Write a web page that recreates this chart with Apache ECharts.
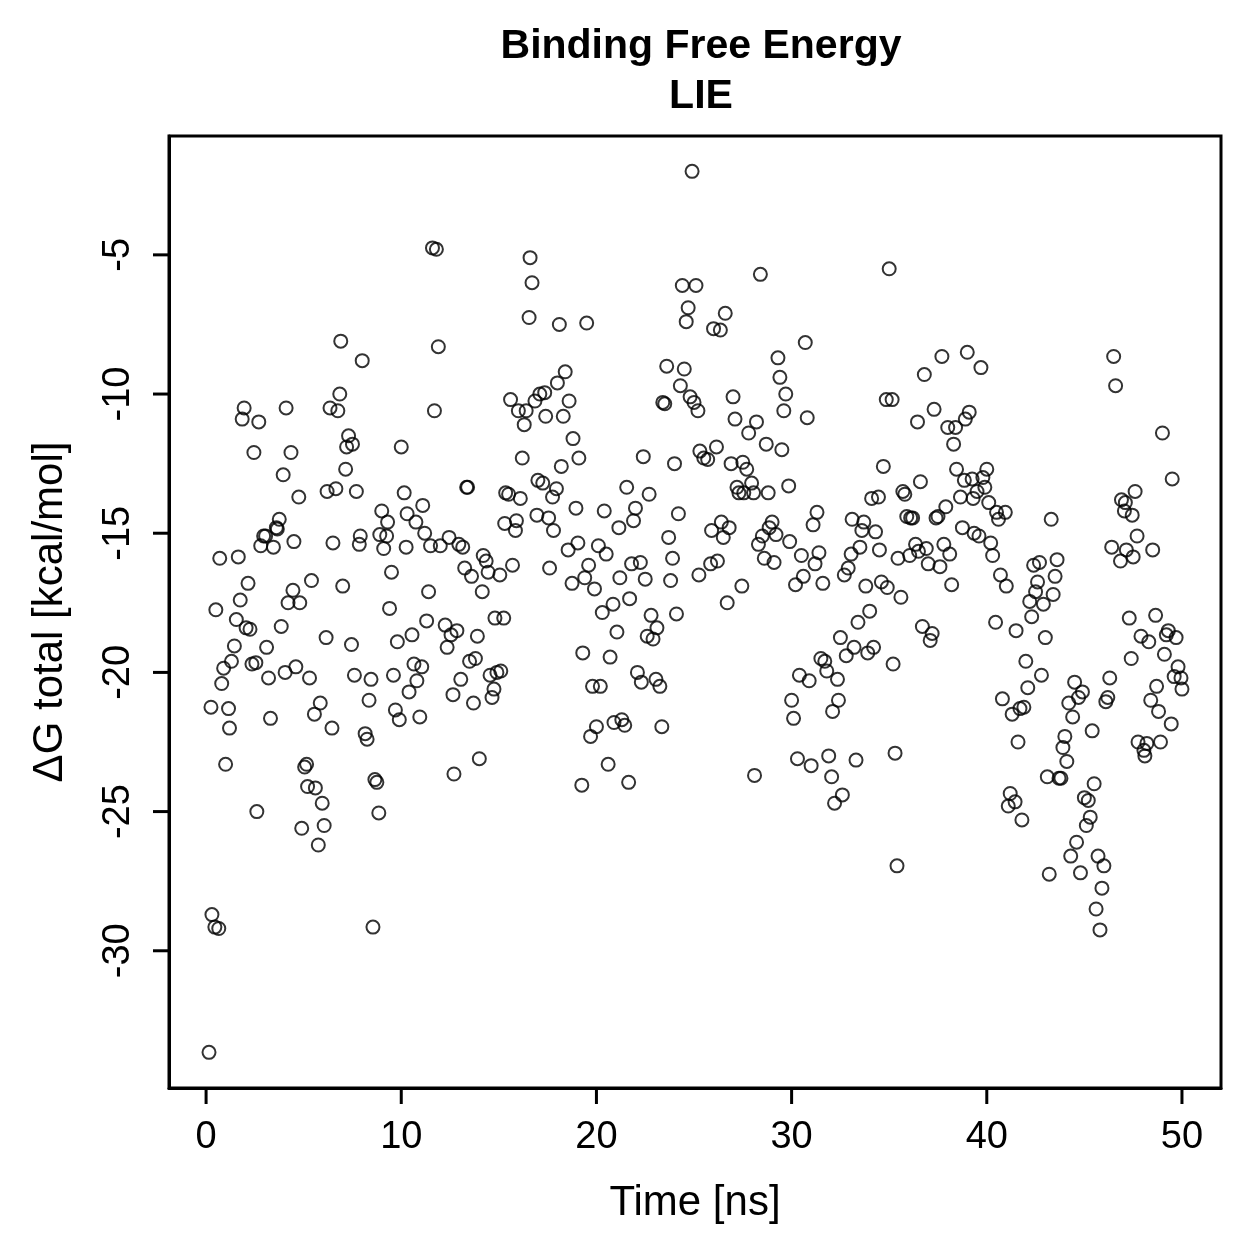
<!DOCTYPE html>
<html>
<head>
<meta charset="utf-8">
<script src="https://cdn.jsdelivr.net/npm/echarts@6/dist/echarts.min.js"></script>
<style>
  html, body { margin: 0; padding: 0; background: #fff; }
  #chart { width: 1259px; height: 1259px; }
</style>
</head>
<body>
<div id="chart"></div>
<script>
// LIE binding free energy per frame: [time (ns), dG total (kcal/mol)]
const points = [
  [0.15,-33.65],[0.25,-21.25],[0.3,-28.7],[0.45,-29.15],[0.5,-17.75],[0.65,-29.2],[0.7,-15.9],[0.8,-20.4],[0.9,-19.85],[1.0,-23.3],
  [1.15,-21.3],[1.2,-22.0],[1.3,-19.6],[1.45,-19.05],[1.55,-18.1],[1.65,-15.85],[1.75,-17.4],[1.85,-10.9],[1.95,-10.5],[2.05,-18.4],
  [2.15,-16.8],[2.25,-18.45],[2.35,-19.7],[2.45,-12.1],[2.55,-19.65],[2.6,-25.0],[2.7,-11.0],[2.8,-15.45],[2.95,-15.1],[3.05,-15.1],
  [3.1,-19.1],[3.2,-20.2],[3.3,-21.65],[3.45,-15.5],[3.6,-14.8],[3.65,-14.85],[3.75,-14.5],[3.85,-18.35],[3.95,-12.9],[4.05,-20.0],
  [4.1,-10.5],[4.2,-17.5],[4.35,-12.1],[4.45,-17.05],[4.5,-15.3],[4.6,-19.8],[4.75,-13.7],[4.8,-17.5],[4.9,-25.6],[5.05,-23.4],
  [5.15,-23.3],[5.2,-24.1],[5.3,-20.2],[5.4,-16.7],[5.55,-21.5],[5.6,-24.15],[5.75,-26.2],[5.85,-21.1],[5.95,-24.7],[6.05,-25.5],
  [6.15,-18.75],[6.2,-13.5],[6.35,-10.5],[6.45,-22.0],[6.5,-15.35],[6.65,-13.4],[6.75,-10.6],[6.85,-10.0],[6.9,-8.1],[7.0,-16.9],
  [7.15,-12.7],[7.2,-11.9],[7.3,-11.5],[7.45,-19.0],[7.5,-11.8],[7.6,-20.1],[7.7,-13.5],[7.85,-15.4],[7.9,-15.1],[8.0,-8.8],
  [8.15,-22.2],[8.25,-22.4],[8.35,-21.0],[8.45,-20.25],[8.55,-29.15],[8.65,-23.85],[8.75,-23.95],[8.85,-25.05],[8.9,-15.05],[9.0,-14.2],
  [9.1,-15.55],[9.25,-15.1],[9.3,-14.6],[9.4,-17.7],[9.5,-16.4],[9.6,-20.1],[9.7,-21.35],[9.8,-18.9],[9.9,-21.7],[10.0,-11.9],
  [10.15,-13.55],[10.25,-15.5],[10.3,-14.3],[10.4,-20.7],[10.55,-18.65],[10.65,-19.7],[10.75,-14.6],[10.8,-20.3],[10.95,-21.6],[11.05,-19.8],
  [11.1,-14.0],[11.2,-15.0],[11.3,-18.15],[11.4,-17.1],[11.5,-15.45],[11.6,-4.75],[11.7,-10.6],[11.8,-4.8],[11.9,-8.3],[12.0,-15.45],
  [12.25,-18.3],[12.35,-19.1],[12.45,-15.15],[12.55,-18.65],[12.65,-20.8],[12.7,-23.65],[12.85,-18.5],[12.95,-15.4],[13.05,-20.25],[13.15,-15.5],
  [13.25,-16.25],[13.35,-13.35],[13.4,-13.35],[13.5,-19.6],[13.6,-16.55],[13.7,-21.1],[13.8,-19.5],[13.9,-18.7],[14.0,-23.1],[14.15,-17.1],
  [14.2,-15.8],[14.35,-16.0],[14.45,-16.4],[14.55,-20.1],[14.65,-20.9],[14.75,-20.6],[14.8,-18.05],[14.9,-20.0],[15.05,-16.5],[15.1,-19.95],
  [15.25,-18.05],[15.3,-14.65],[15.35,-13.55],[15.5,-13.6],[15.6,-10.2],[15.7,-16.15],[15.85,-14.9],[15.9,-14.55],[16.0,-10.6],[16.1,-13.75],
  [16.2,-12.3],[16.3,-11.1],[16.4,-10.6],[16.55,-7.25],[16.6,-5.1],[16.7,-6.0],[16.85,-10.25],[16.95,-14.35],[17.0,-13.1],[17.1,-10.0],
  [17.25,-13.2],[17.35,-9.95],[17.4,-10.8],[17.55,-14.45],[17.6,-16.25],[17.75,-13.7],[17.8,-14.9],[17.95,-13.4],[18.0,-9.6],[18.1,-7.5],
  [18.2,-12.6],[18.3,-10.8],[18.4,-9.2],[18.55,-15.6],[18.6,-10.25],[18.75,-16.8],[18.8,-11.6],[18.95,-14.1],[19.05,-15.35],[19.1,-12.3],
  [19.25,-24.05],[19.3,-19.3],[19.4,-16.6],[19.5,-7.45],[19.6,-16.15],[19.7,-22.3],[19.8,-20.5],[19.9,-17.0],[20.0,-21.95],[20.1,-15.45],
  [20.2,-20.5],[20.3,-17.85],[20.4,-14.2],[20.5,-15.75],[20.6,-23.3],[20.7,-19.45],[20.85,-17.55],[20.9,-21.8],[21.05,-18.55],[21.15,-14.8],
  [21.2,-16.6],[21.3,-21.7],[21.45,-21.9],[21.55,-13.35],[21.65,-23.95],[21.7,-17.35],[21.8,-16.1],[21.9,-14.55],[22.0,-14.1],[22.1,-20.0],
  [22.25,-16.05],[22.3,-20.35],[22.4,-12.25],[22.5,-16.65],[22.6,-18.7],[22.7,-13.6],[22.8,-17.95],[22.9,-18.8],[23.05,-20.25],[23.1,-18.4],
  [23.25,-20.5],[23.35,-21.95],[23.4,-10.3],[23.5,-10.35],[23.6,-9.0],[23.7,-15.15],[23.8,-16.7],[23.9,-15.9],[24.0,-12.5],[24.1,-17.9],
  [24.2,-14.3],[24.3,-9.7],[24.4,-6.1],[24.5,-9.1],[24.6,-7.4],[24.7,-6.9],[24.8,-10.1],[24.9,-2.0],[25.0,-10.3],[25.1,-6.1],
  [25.2,-10.6],[25.25,-16.5],[25.3,-12.05],[25.5,-12.3],[25.7,-12.35],[25.85,-16.1],[25.9,-14.9],[26.0,-7.65],[26.15,-11.9],[26.2,-16.0],
  [26.35,-7.7],[26.4,-14.6],[26.5,-15.15],[26.6,-7.1],[26.7,-17.5],[26.8,-14.8],[26.9,-12.5],[27.0,-10.1],[27.1,-10.9],[27.2,-13.35],
  [27.3,-13.55],[27.45,-16.9],[27.5,-12.45],[27.55,-13.55],[27.7,-12.7],[27.8,-11.4],[27.95,-13.2],[28.05,-13.55],[28.1,-23.7],[28.2,-11.0],
  [28.3,-15.4],[28.4,-5.7],[28.5,-15.1],[28.6,-15.9],[28.7,-11.8],[28.8,-13.55],[28.85,-14.8],[29.0,-14.6],[29.1,-16.05],[29.2,-15.05],
  [29.3,-8.7],[29.4,-9.4],[29.5,-12.0],[29.6,-10.6],[29.7,-10.0],[29.85,-13.3],[29.9,-15.3],[30.0,-21.0],[30.1,-21.65],[30.2,-16.85],
  [30.3,-23.1],[30.4,-20.1],[30.5,-15.8],[30.6,-16.55],[30.7,-8.15],[30.8,-10.85],[30.9,-20.3],[31.0,-23.35],[31.1,-14.7],[31.2,-16.1],
  [31.3,-14.25],[31.4,-15.7],[31.5,-19.5],[31.6,-16.8],[31.7,-19.6],[31.8,-19.95],[31.9,-23.0],[32.05,-23.75],[32.1,-21.4],[32.2,-24.7],
  [32.35,-20.25],[32.4,-21.0],[32.5,-18.75],[32.6,-24.4],[32.7,-16.5],[32.8,-19.4],[32.9,-16.25],[33.05,-15.75],[33.1,-14.5],[33.2,-19.1],
  [33.3,-23.15],[33.4,-18.2],[33.5,-15.5],[33.6,-14.9],[33.7,-14.6],[33.8,-16.9],[33.9,-19.3],[34.0,-17.8],[34.1,-13.75],[34.2,-19.1],
  [34.3,-14.95],[34.45,-13.7],[34.5,-15.6],[34.6,-16.75],[34.7,-12.6],[34.85,-10.2],[34.9,-16.95],[35.0,-5.5],[35.15,-10.2],[35.2,-19.7],
  [35.3,-22.9],[35.4,-26.95],[35.45,-15.9],[35.6,-17.3],[35.7,-13.5],[35.8,-13.6],[35.9,-14.4],[36.05,-15.8],[36.1,-14.45],[36.2,-14.45],
  [36.35,-15.4],[36.45,-11.0],[36.5,-15.65],[36.6,-13.15],[36.7,-18.35],[36.8,-9.3],[36.9,-15.55],[37.0,-16.1],[37.1,-18.85],[37.2,-18.6],
  [37.3,-10.55],[37.4,-14.45],[37.5,-14.4],[37.6,-16.2],[37.7,-8.65],[37.8,-15.4],[37.9,-14.05],[38.0,-11.2],[38.1,-15.75],[38.2,-16.85],
  [38.3,-11.8],[38.4,-11.2],[38.45,-12.7],[38.65,-13.7],[38.75,-14.8],[38.85,-13.1],[38.9,-10.9],[39.0,-8.5],[39.1,-10.65],[39.25,-13.05],
  [39.3,-13.75],[39.35,-15.0],[39.5,-13.5],[39.6,-15.1],[39.7,-9.05],[39.8,-13.0],[39.9,-13.35],[40.0,-12.7],[40.1,-13.9],[40.2,-15.35],
  [40.3,-15.8],[40.45,-18.2],[40.5,-14.25],[40.6,-14.5],[40.7,-16.5],[40.8,-20.95],[40.95,-14.25],[41.0,-16.9],[41.1,-24.8],[41.2,-24.35],
  [41.3,-21.5],[41.45,-24.65],[41.5,-18.5],[41.6,-22.5],[41.7,-21.3],[41.8,-25.3],[41.9,-21.25],[42.0,-19.6],[42.1,-20.55],[42.2,-17.45],
  [42.3,-18.0],[42.4,-16.15],[42.5,-17.1],[42.6,-16.75],[42.7,-16.05],[42.8,-20.1],[42.9,-17.55],[43.0,-18.75],[43.1,-23.75],[43.2,-27.25],
  [43.3,-14.5],[43.4,-17.2],[43.5,-16.55],[43.6,-15.95],[43.7,-23.8],[43.8,-23.8],[43.9,-22.7],[44.0,-22.3],[44.1,-23.2],[44.2,-21.1],
  [44.3,-26.6],[44.4,-21.6],[44.5,-20.35],[44.6,-26.1],[44.7,-20.9],[44.8,-27.2],[44.9,-20.7],[45.0,-24.5],[45.1,-25.5],[45.2,-24.6],
  [45.3,-25.2],[45.4,-22.1],[45.5,-24.0],[45.6,-28.5],[45.7,-26.6],[45.8,-29.25],[45.9,-27.75],[46.0,-26.95],[46.1,-21.05],[46.2,-20.9],
  [46.3,-20.2],[46.4,-15.5],[46.5,-8.65],[46.6,-9.7],[46.85,-16.0],[46.9,-13.8],[47.05,-14.2],[47.1,-13.9],[47.15,-15.6],[47.3,-18.05],
  [47.4,-19.5],[47.45,-14.35],[47.5,-15.85],[47.6,-13.5],[47.7,-15.1],[47.75,-22.5],[47.9,-18.7],[48.05,-22.8],[48.1,-23.0],[48.2,-22.55],
  [48.3,-18.9],[48.4,-21.0],[48.5,-15.6],[48.65,-17.95],[48.7,-20.5],[48.8,-21.4],[48.9,-22.5],[49.0,-11.4],[49.1,-19.35],[49.2,-18.65],
  [49.3,-18.5],[49.45,-21.85],[49.5,-13.05],[49.6,-20.15],[49.7,-18.75],[49.8,-19.8],[49.95,-20.2],[50.0,-20.6]
];

const xTicks = [0, 10, 20, 30, 40, 50];
const yTicks = [-30, -25, -20, -15, -10, -5];

const X_MIN = -1.9, X_MAX = 52;
const Y_MIN = -34.93, Y_MAX = -0.73;
const TICK_LEN = 16;

const FONT = '"Liberation Sans", Arial, sans-serif';

const chart = echarts.init(document.getElementById('chart'));

const option = {
  animation: false,
  backgroundColor: '#fff',
  title: {
    text: 'Binding Free Energy\nLIE',
    left: 696,
    top: 17,
    textAlign: 'center',
    textStyle: {
      fontFamily: FONT,
      fontWeight: 'bold',
      fontSize: 41,
      lineHeight: 50,
      color: '#000'
    }
  },
  grid: {
    left: 169,
    top: 136,
    width: 1052,
    height: 952,
    show: true,
    borderColor: '#000',
    borderWidth: 3,
    backgroundColor: 'transparent'
  },
  xAxis: {
    type: 'value',
    min: X_MIN,
    max: X_MAX,
    name: 'Time [ns]',
    nameLocation: 'middle',
    nameGap: 94,
    nameTextStyle: { fontFamily: FONT, fontSize: 42, color: '#000' },
    axisLine: { show: true, onZero: false, lineStyle: { color: '#000', width: 3 } },
    axisTick: { show: false },
    axisLabel: { customValues: xTicks, margin: 31, fontFamily: FONT, fontSize: 38, color: '#000' },
    splitLine: { show: false }
  },
  yAxis: {
    type: 'value',
    min: Y_MIN,
    max: Y_MAX,
    name: 'ΔG total [kcal/mol]',
    nameLocation: 'middle',
    nameGap: 98,
    nameRotate: 90,
    nameTextStyle: { fontFamily: FONT, fontSize: 42, color: '#000' },
    axisLine: { show: true, onZero: false, lineStyle: { color: '#000', width: 3 } },
    axisTick: { show: false },
    axisLabel: { customValues: yTicks, rotate: 90, margin: 31, fontFamily: FONT, fontSize: 38, color: '#000' },
    splitLine: { show: false }
  },
  series: [{
    type: 'scatter',
    data: points,
    symbol: 'circle',
    symbolSize: 13,
    itemStyle: {
      color: 'rgba(0,0,0,0)',
      borderColor: '#000',
      borderWidth: 2
    }
  }]
};

chart.setOption(option);

// tick marks as filled rects; positions come from the chart's own scales
const TICK_W = 3;
const tickMarks = [];
xTicks.forEach(v => {
  const p = chart.convertToPixel({ gridIndex: 0 }, [v, Y_MIN]);
  tickMarks.push({
    type: 'rect',
    z: 100,
    shape: { x: p[0] - TICK_W / 2, y: p[1], width: TICK_W, height: TICK_LEN },
    style: { fill: '#000' },
    silent: true
  });
});
yTicks.forEach(v => {
  const p = chart.convertToPixel({ gridIndex: 0 }, [X_MIN, v]);
  tickMarks.push({
    type: 'rect',
    z: 100,
    shape: { x: p[0] - TICK_LEN, y: p[1] - TICK_W / 2, width: TICK_LEN, height: TICK_W },
    style: { fill: '#000' },
    silent: true
  });
});
chart.setOption({ graphic: { elements: tickMarks } });
</script>
</body>
</html>
